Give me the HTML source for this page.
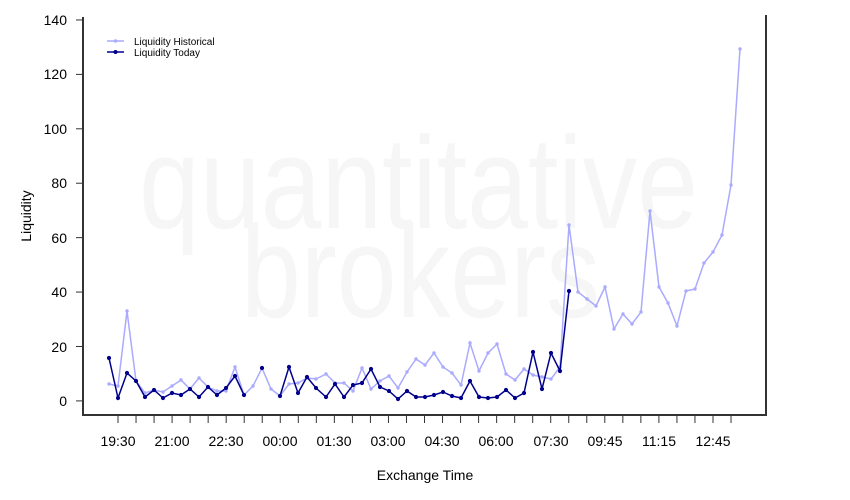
<!DOCTYPE html>
<html><head><meta charset="utf-8"><style>
html,body{margin:0;padding:0;background:#fff;}
svg{display:block;font-family:"Liberation Sans",Arial,sans-serif;}
</style></head><body>
<svg id="s" width="850" height="500" xmlns="http://www.w3.org/2000/svg">
<text x="139" y="228" font-size="131" fill="#f6f6f6" textLength="559" lengthAdjust="spacingAndGlyphs">quantitative</text>
<text x="241" y="317" font-size="131" fill="#f6f6f6" textLength="359" lengthAdjust="spacingAndGlyphs">brokers</text>
<g id="g"></g>
<path d="M83 17 V415 H766 V15" fill="none" stroke="#333" stroke-width="2"/>
<g font-size="14" fill="#000" text-anchor="end">
<text x="67" y="406">0</text><text x="67" y="352">20</text><text x="67" y="297">40</text><text x="67" y="243">60</text><text x="67" y="188">80</text><text x="67" y="134">100</text><text x="67" y="79">120</text><text x="67" y="25">140</text>
</g>
<g font-size="14" fill="#000" text-anchor="middle">
<text x="118" y="446">19:30</text><text x="172" y="446">21:00</text><text x="226" y="446">22:30</text><text x="280" y="446">00:00</text><text x="334" y="446">01:30</text><text x="388" y="446">03:00</text><text x="442" y="446">04:30</text><text x="496" y="446">06:00</text><text x="551" y="446">07:30</text><text x="605" y="446">09:45</text><text x="659" y="446">11:15</text><text x="713" y="446">12:45</text>
<text x="425" y="480">Exchange Time</text>
<text transform="translate(31,216) rotate(-90)">Liquidity</text>
</g>
<line x1="107" y1="41" x2="124" y2="41" stroke="#aaaaff" stroke-width="1.5"/><circle cx="115.5" cy="41" r="1.7" fill="#aaaaff"/>
<line x1="107" y1="52" x2="124" y2="52" stroke="#00008b" stroke-width="1.5"/><circle cx="115.5" cy="52" r="2" fill="#00008b"/>
<text x="134" y="45" font-size="10">Liquidity Historical</text>
<text x="134" y="56" font-size="10">Liquidity Today</text>
</svg>
<script>
var g=document.getElementById('g'),h='';
for(var i=0;i<35;i++){var x=118+i*18.03;h+='<line x1="'+x+'" y1="415" x2="'+x+'" y2="423" stroke="#333"/>';}
[0,20,40,60,80,100,120,140].forEach(function(v){var y=400.9-v*2.721;h+='<line x1="76" y1="'+y+'" x2="83" y2="'+y+'" stroke="#333"/>';});
var H=[[109,384],[118,386],[127,311],[136,381],[145,393],[154,390],[163,392],[172,386],[181,380],[190,389],[199,378],[208,387],[217,391],[226,391],[235,367],[244,395],[253,386],[262,368],[271,389],[280,396],[289,384],[298,383],[307,378],[316,379],[326,374],[335,383],[344,383],[353,391],[362,368],[371,389],[380,381],[389,376],[398,388],[407,372],[416,359],[425,365],[434,353],[443,367],[452,373],[461,385],[470,343],[479,371],[488,353],[497,344],[506,374],[515,380],[524,369],[533,375],[542,377],[551,379],[560,367],[569,225],[578,292],[587,299],[596,306],[605,287],[614,329],[623,314],[632,324],[641,312],[650,211],[659,287],[668,303],[677,326],[686,291],[695,289],[704,263],[713,252],[722,235],[731,185],[740,49]];
var T1=[[109,358],[118,398],[127,373],[136,381],[145,397],[154,390],[163,398],[172,393],[181,395],[190,389],[199,397],[208,387],[217,395],[226,388],[235,376],[244,395]];
var T2=[[262,368]];
var T3=[[280,396],[289,367],[298,393],[307,377],[316,388],[326,397],[335,384],[344,397],[353,385],[362,383],[371,369],[380,387],[389,391],[398,399],[407,391],[416,397],[425,397],[434,395],[443,392],[452,396],[461,398],[470,381],[479,397],[488,398],[497,397],[506,390],[515,398],[524,393],[533,352],[542,389],[551,353],[560,371],[569,291]];
function ser(P,c,r){h+='<polyline fill="none" stroke="'+c+'" stroke-width="1.5" points="'+P.map(function(p){return p.join(',')}).join(' ')+'"/>';P.forEach(function(p){h+='<circle cx="'+p[0]+'" cy="'+p[1]+'" r="'+r+'" fill="'+c+'"/>';});}
ser(H,'#aaaaff',1.7);ser(T1,'#00008b',2.1);ser(T2,'#00008b',2.1);ser(T3,'#00008b',2.1);
g.innerHTML=h;
</script>
</body></html>
